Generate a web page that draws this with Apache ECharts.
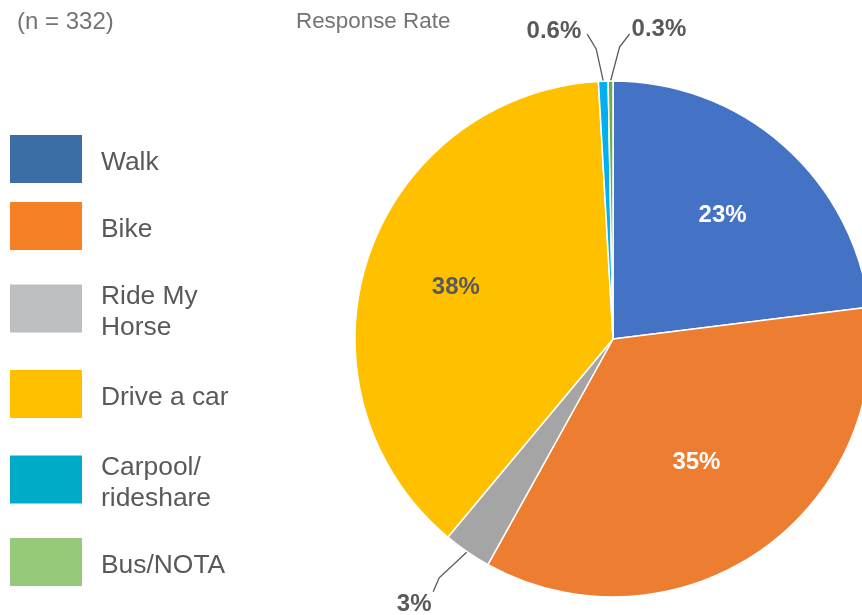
<!DOCTYPE html>
<html>
<head>
<meta charset="utf-8">
<script src="https://cdn.jsdelivr.net/npm/echarts@6/dist/echarts.min.js"></script>
<style>
  html, body { margin: 0; padding: 0; background: #ffffff; }
  #chart { width: 862px; height: 615px; }
</style>
</head>
<body>
<div id="chart"></div>
<script>
// Commute mode shares (percent of respondents)
const categories = ['Walk', 'Bike', 'Ride My Horse', 'Drive a car', 'Carpool/rideshare', 'Bus/NOTA'];
const shares = [23, 35, 3, 38, 0.6, 0.3];
const legendLabels = ['Walk', 'Bike', 'Ride My\nHorse', 'Drive a car', 'Carpool/\nrideshare', 'Bus/NOTA'];
const sliceColors = ['#4472C4', '#ED7D31', '#A5A5A5', '#FFC000', '#00B0F0', '#70AD47'];
const legendColors = ['#3B6EA5', '#F58025', '#BDBEC0', '#FFC000', '#00ABC8', '#97C97A'];
const sampleNote = '(n = 332)';
const chartTitle = 'Response Rate';

const FONT = '"Liberation Sans", Arial, sans-serif';
const TEXT_GREY = '#595959';
const PIE_CENTER = [613, 339];
const PIE_RADIUS = 258;
const INSIDE_MIN = 10;                 // slices at or above this share get an inside label
const insideLabelColors = ['#ffffff', '#ffffff', TEXT_GREY, TEXT_GREY, TEXT_GREY, TEXT_GREY];
// radial pull of individual inside labels towards the centre
const insideLabelPull = { 1: 0.9 };

// Leader-line shapes for the small outside labels: bend and end points relative
// to the anchor on the slice edge, plus the label offset from the line end.
const guides = {
  2: { bend: [-28, 26], end: [-34, 40], text: [-19, 13], align: 'center' },
  4: { bend: [-7, -32], end: [-16, -47], text: [-6, -3], align: 'right' },
  5: { bend: [9, -34], end: [19, -47], text: [2, -5], align: 'left' }
};

// Legend rows (row centre y)
const legendRowY = [159, 226, 308.5, 394, 479.5, 562];

const chart = echarts.init(document.getElementById('chart'), null, { renderer: 'canvas' });

const graphic = [
  { type: 'text', x: 17, y: 22, style: { text: sampleNote, font: '24px ' + FONT, fill: '#737373', verticalAlign: 'middle' } },
  { type: 'text', x: 296, y: 22, style: { text: chartTitle, font: '22.4px ' + FONT, fill: '#737373', verticalAlign: 'middle' } }
];
legendLabels.forEach((label, i) => {
  graphic.push({
    type: 'rect',
    shape: { x: 10, y: legendRowY[i] - 24, width: 72, height: 48 },
    style: { fill: legendColors[i] }
  });
  graphic.push({
    type: 'text', x: 101, y: legendRowY[i] + 4,
    style: { text: label, font: '26.4px ' + FONT, fill: TEXT_GREY, verticalAlign: 'middle', lineHeight: 31 }
  });
});

const option = {
  animation: false,
  graphic: graphic,
  series: [
    {
      // slices with the outside labels of the thin slices
      type: 'pie',
      center: PIE_CENTER,
      radius: [0, PIE_RADIUS],
      startAngle: 90,
      clockwise: true,
      silent: true,
      avoidLabelOverlap: false,
      itemStyle: { borderColor: '#ffffff', borderWidth: 1.5 },
      label: {
        position: 'outside',
        formatter: '{c}%',
        fontFamily: FONT, fontSize: 24, fontWeight: 'bold', color: TEXT_GREY
      },
      labelLine: { length: 20, length2: 10, lineStyle: { color: TEXT_GREY, width: 1.3 } },
      labelLayout: function (p) {
        const g = guides[p.dataIndex];
        if (!g || !p.labelLinePoints) return {};
        const a = p.labelLinePoints[0];
        const bend = [a[0] + g.bend[0], a[1] + g.bend[1]];
        const end = [a[0] + g.end[0], a[1] + g.end[1]];
        return {
          x: end[0] + g.text[0],
          y: end[1] + g.text[1],
          align: g.align,
          verticalAlign: 'middle',
          labelLinePoints: [a, bend, end]
        };
      },
      data: categories.map((name, i) => ({
        name: name,
        value: shares[i],
        itemStyle: { color: sliceColors[i] },
        label: { show: shares[i] < INSIDE_MIN },
        labelLine: { show: shares[i] < INSIDE_MIN }
      }))
    },
    {
      // inside percentage labels for the large slices
      type: 'pie',
      center: PIE_CENTER,
      radius: [0, PIE_RADIUS * 1.26],
      startAngle: 90,
      clockwise: true,
      silent: true,
      avoidLabelOverlap: false,
      itemStyle: { color: 'rgba(0,0,0,0)', borderWidth: 0 },
      label: {
        position: 'inside',
        formatter: '{c}%',
        fontFamily: FONT, fontSize: 24, fontWeight: 'bold'
      },
      labelLine: { show: false },
      labelLayout: function (p) {
        const k = insideLabelPull[p.dataIndex];
        if (!k) return {};
        const r = p.labelRect;
        const cx = r.x + r.width / 2, cy = r.y + r.height / 2;
        return {
          x: PIE_CENTER[0] + (cx - PIE_CENTER[0]) * k,
          y: PIE_CENTER[1] + (cy - PIE_CENTER[1]) * k,
          align: 'center',
          verticalAlign: 'middle'
        };
      },
      data: categories.map((name, i) => ({
        name: name,
        value: shares[i],
        label: { show: shares[i] >= INSIDE_MIN, color: insideLabelColors[i] }
      }))
    }
  ]
};

chart.setOption(option);
</script>
</body>
</html>
